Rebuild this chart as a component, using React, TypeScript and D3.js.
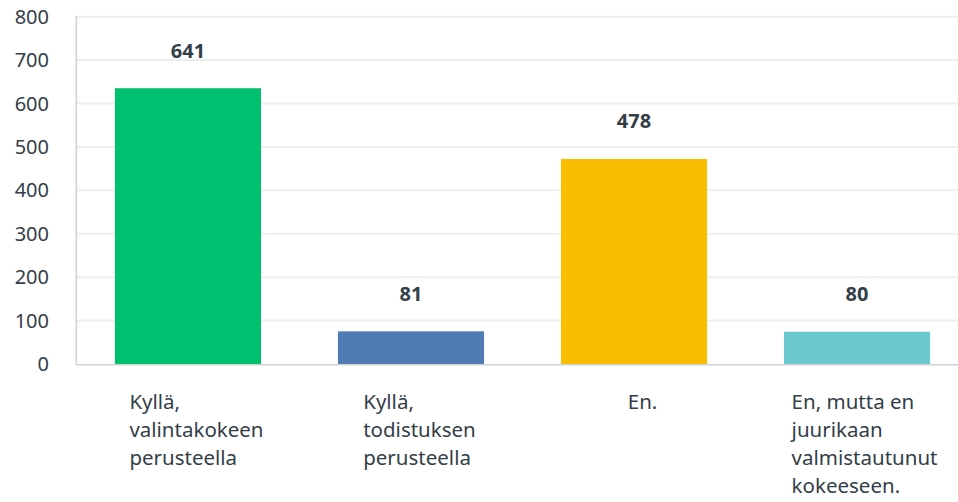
import { useRef, useEffect } from 'react'
import * as d3 from 'd3'

const categories = [
  ['Kyllä,', 'valintakokeen', 'perusteella'],
  ['Kyllä,', 'todistuksen', 'perusteella'],
  ['En.'],
  ['En, mutta en', 'juurikaan', 'valmistautunut', 'kokeeseen.'],
]
const values = [641, 81, 478, 80]
const colors = ['#00BF6F', '#507CB6', '#F9BE00', '#6BC8CD']
const yTicks = [0, 100, 200, 300, 400, 500, 600, 700, 800]

const W = 958
const H = 502
const TEXT = '#333E48'
const FONT = "'Noto Sans', sans-serif"

const App = () => {
  const svgRef = useRef(null)

  useEffect(() => {
    const svg = d3.select(svgRef.current)
    svg.selectAll('*').remove()

    const left = 77
    const y = d3.scaleLinear().domain([0, 800]).range([364, 16.7])
    const x = d3
      .scaleBand()
      .domain(categories.map((d, i) => String(i)))
      .range([left, 968])
      .paddingInner(0.345)
      .paddingOuter(0.17)

    // gridlines
    svg
      .append('g')
      .selectAll('line')
      .data(yTicks.filter((t) => t > 0))
      .join('line')
      .attr('x1', left)
      .attr('x2', W)
      .attr('y1', (d) => y(d))
      .attr('y2', (d) => y(d))
      .attr('stroke', '#EDEEEE')
      .attr('stroke-width', 2)

    // y labels
    svg
      .append('g')
      .selectAll('text')
      .data(yTicks)
      .join('text')
      .attr('x', 49)
      .attr('y', (d) => y(d))
      .attr('dy', '0.35em')
      .attr('text-anchor', 'end')
      .attr('fill', TEXT)
      .style('font-family', FONT)
      .style('font-size', '20px')
      .text((d) => d)

    // bars (small gap below the value line, as in the original)
    svg
      .append('g')
      .selectAll('rect')
      .data(values)
      .join('rect')
      .attr('x', (d, i) => x(String(i)))
      .attr('width', x.bandwidth())
      .attr('y', (d) => y(d) + 2.5)
      .attr('height', (d) => y(0) - y(d) - 2.5)
      .attr('fill', (d, i) => colors[i])

    // axes lines
    svg.append('line').attr('x1', 76.3).attr('x2', 76.3).attr('y1', 16).attr('y2', 365).attr('stroke', '#D0D2D3').attr('stroke-width', 1.6)
    svg.append('line').attr('x1', 76).attr('x2', W).attr('y1', 364.8).attr('y2', 364.8).attr('stroke', '#D0D2D3').attr('stroke-width', 1.6)

    // value labels
    svg
      .append('g')
      .selectAll('text')
      .data(values)
      .join('text')
      .attr('x', (d, i) => x(String(i)) + x.bandwidth() / 2)
      .attr('y', (d) => y(d) - 28)
      .attr('text-anchor', 'middle')
      .attr('fill', TEXT)
      .style('font-family', FONT)
      .style('font-size', '20px')
      .style('font-weight', 'bold')
      .text((d) => d)

    // category labels
    categories.forEach((lines, i) => {
      const g = svg.append('g')
      const t = g
        .append('text')
        .attr('fill', TEXT)
        .style('font-family', FONT)
        .style('font-size', '20.5px')
      lines.forEach((line, j) => {
        t.append('tspan').attr('x', 0).attr('y', 409 + j * 28).text(line)
      })
      const w = t.node().getBBox().width
      const cx = x(String(i)) + x.bandwidth() / 2 + 8.5
      g.attr('transform', `translate(${cx - w / 2}, 0)`)
    })
  }, [])

  return (
    <svg ref={svgRef} width={W} height={H} style={{ position: 'absolute', left: 0, top: 0 }}></svg>
  )
}

export default App
